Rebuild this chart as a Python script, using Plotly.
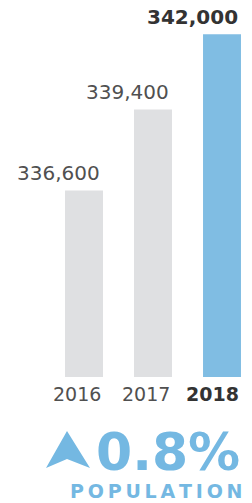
import plotly.graph_objects as go

years = ["2016", "2017", "2018"]
population = [336600, 339400, 342000]
value_labels = ["336,600", "339,400", "342,000"]
bar_colors = ["#dfe0e2", "#dfe0e2", "#80bde3"]
change_text = "0.8%"
change_caption = "POPULATION"

W, H = 252, 503
plot_bottom_px = 377
bar_w = 0.55
x = list(range(len(years)))

fig = go.Figure()
fig.add_trace(go.Bar(x=x, y=population, width=bar_w,
                     marker=dict(color=bar_colors, line=dict(width=0)),
                     hoverinfo="skip"))

font_fam = "DejaVu Sans"
ann = []
for i, (v, lab, yr) in enumerate(zip(population, value_labels, years)):
    last = i == len(years) - 1
    ann.append(dict(x=i + bar_w / 2 - 0.02, y=v, xref="x", yref="y",
                    text=f"<b>{lab}</b>" if last else lab,
                    xanchor="right", yanchor="bottom", yshift=3, showarrow=False,
                    font=dict(family=font_fam, size=20,
                              color="#333333" if last else "#505050")))
    ann.append(dict(x=i + bar_w / 2, y=0, xref="x", yref="paper",
                    text=f"<b>{yr}</b>" if last else yr,
                    xanchor="right", yanchor="top", yshift=-4, showarrow=False,
                    font=dict(family=font_fam, size=19,
                              color="#333333" if last else "#505050")))

def py(p):
    return (plot_bottom_px - p) / plot_bottom_px

def px(p):
    return p / W

ann.append(dict(x=px(242), y=py(452), xref="paper", yref="paper", text=f"<b>{change_text}</b>",
                xanchor="right", yanchor="middle", showarrow=False,
                font=dict(family=font_fam, size=52, color="#74b8e2")))
ann.append(dict(x=px(244), y=py(491), xref="paper", yref="paper",
                text="<b>" + "\u2009".join(change_caption) + "</b>",
                xanchor="right", yanchor="middle", showarrow=False,
                font=dict(family=font_fam, size=19, color="#74b8e2")))

arrow = (f"M {px(67)} {py(431)} L {px(90)} {py(468)} L {px(67)} {py(459)} "
         f"L {px(46)} {py(468)} Z")
fig.update_layout(
    width=W, height=H,
    margin=dict(l=0, r=0, t=0, b=H - plot_bottom_px),
    paper_bgcolor="white", plot_bgcolor="white",
    showlegend=False,
    xaxis=dict(range=[-84 / 69, -84 / 69 + W / 69], visible=False, fixedrange=True),
    yaxis=dict(range=[330150, 330150 + plot_bottom_px / 0.02893], visible=False, fixedrange=True),
    annotations=ann,
    shapes=[dict(type="path", path=arrow, xref="paper", yref="paper",
                 fillcolor="#74b8e2", line=dict(width=0))],
)
fig.write_html("out.html", config={"displayModeBar": False},
               post_script="document.body.style.margin='0';document.body.style.overflow='hidden';")
